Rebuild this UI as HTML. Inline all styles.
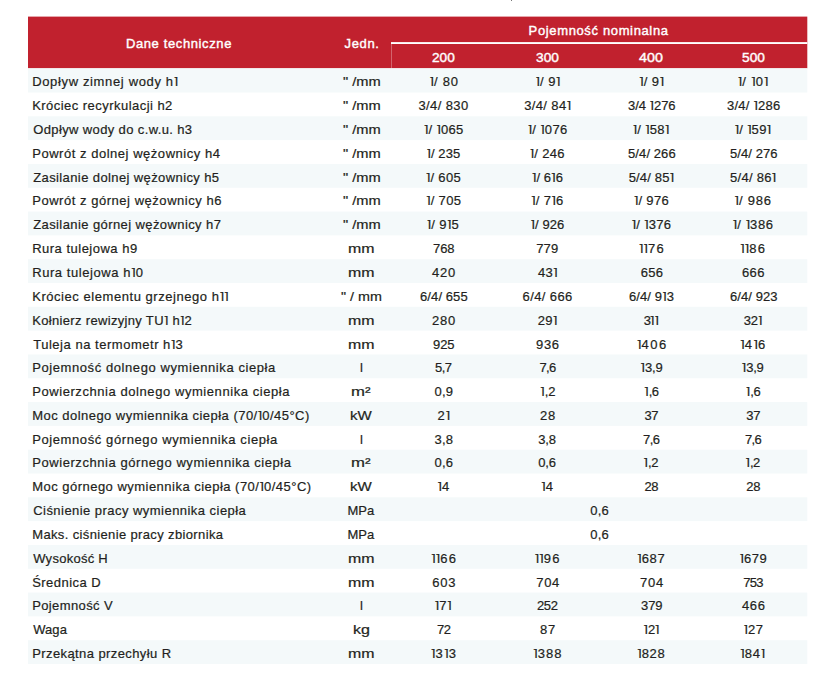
<!DOCTYPE html>
<html><head><meta charset="utf-8"><title>Dane techniczne</title>
<style>
html,body{margin:0;padding:0;background:#fff;}
body{width:837px;height:690px;position:relative;overflow:hidden;font-family:"Liberation Sans",sans-serif;}
.ht{position:absolute;color:#fff;font-size:13px;white-space:nowrap;-webkit-text-stroke:0.4px #fff;transform-origin:0 0;}
.t{position:absolute;font-size:13px;color:#231f20;-webkit-text-stroke:0.2px #231f20;white-space:nowrap;line-height:23.84px;font-family:"Liberation Sans",sans-serif;}
.o{display:inline-block;position:relative;width:4.6px;color:transparent;-webkit-text-stroke:0 transparent;letter-spacing:0;}
.o::before{content:"I";position:absolute;left:1.15px;top:0;color:#231f20;-webkit-text-stroke:0.2px #231f20;}
.o::after{content:"-";position:absolute;left:0.45px;top:-3.9px;font-size:9px;color:#231f20;-webkit-text-stroke:0.2px #231f20;}
.u{transform-origin:0 0;}
</style></head><body>
<svg style="position:absolute;left:0;top:0" width="837" height="690" viewBox="0 0 837 690">
<rect x="511" y="0" width="1" height="1" fill="#777"/>
<rect x="28" y="16.6" width="779.3" height="51.7" fill="#c1212e"/>
<rect x="391" y="42.1" width="416.3" height="1.9" fill="#fff"/>
<rect x="391" y="44" width="1" height="24.3" fill="#fff" fill-opacity="0.3"/>
<rect x="28" y="68.300" width="779.3" height="24.200" fill="#f4f9fa"/>
<rect x="28" y="116.312" width="779.3" height="23.812" fill="#f4f9fa"/>
<rect x="28" y="163.938" width="779.3" height="23.812" fill="#f4f9fa"/>
<rect x="28" y="211.562" width="779.3" height="23.812" fill="#f4f9fa"/>
<rect x="28" y="259.188" width="779.3" height="23.812" fill="#f4f9fa"/>
<rect x="28" y="306.812" width="779.3" height="23.812" fill="#f4f9fa"/>
<rect x="28" y="354.438" width="779.3" height="23.812" fill="#f4f9fa"/>
<rect x="28" y="402.062" width="779.3" height="23.812" fill="#f4f9fa"/>
<rect x="28" y="449.688" width="779.3" height="23.812" fill="#f4f9fa"/>
<rect x="28" y="497.312" width="779.3" height="23.812" fill="#f4f9fa"/>
<rect x="28" y="544.938" width="779.3" height="23.812" fill="#f4f9fa"/>
<rect x="28" y="592.562" width="779.3" height="23.812" fill="#f4f9fa"/>
<rect x="28" y="640.188" width="779.3" height="23.812" fill="#f4f9fa"/>
</svg>
<div class="ht" style="left:125.90px;top:18px;line-height:51px;letter-spacing:0.621px;">Dane techniczne</div>
<div class="ht" style="left:344.60px;top:18px;line-height:51px;letter-spacing:0.625px;">Jedn.</div>
<div class="ht" style="left:528.60px;top:18px;line-height:25px;letter-spacing:0.639px;">Pojemność nominalna</div>
<div class="ht" style="left:431.80px;top:46px;line-height:24px;letter-spacing:0.000px;transform:scaleX(1.050);">200</div>
<div class="ht" style="left:535.90px;top:46px;line-height:24px;letter-spacing:0.000px;transform:scaleX(1.055);">300</div>
<div class="ht" style="left:639.30px;top:46px;line-height:24px;letter-spacing:0.000px;transform:scaleX(1.100);">400</div>
<div class="ht" style="left:741.70px;top:46px;line-height:24px;letter-spacing:0.000px;transform:scaleX(1.055);">500</div>
<div class="t" style="left:32.20px;top:69.57px;letter-spacing:0.645px;">Dopływ zimnej wody h<span class="o">1</span></div>
<div class="t u" style="left:342.50px;top:69.57px;transform:scaleX(1.127);">" /mm</div>
<div class="t" style="left:429.45px;top:69.57px;letter-spacing:0.73px;"><span class="o">1</span>/ 80</div>
<div class="t" style="left:535.45px;top:69.57px;letter-spacing:0.47px;"><span class="o">1</span>/ 9<span class="o">1</span></div>
<div class="t" style="left:639.05px;top:69.57px;letter-spacing:0.47px;"><span class="o">1</span>/ 9<span class="o">1</span></div>
<div class="t" style="left:737.70px;top:69.57px;letter-spacing:0.80px;"><span class="o">1</span>/ <span class="o">1</span>0<span class="o">1</span></div>
<div class="t" style="left:32.20px;top:93.57px;letter-spacing:0.459px;">Króciec recyrkulacji h2</div>
<div class="t u" style="left:342.50px;top:93.57px;transform:scaleX(1.127);">" /mm</div>
<div class="t" style="left:418.40px;top:93.57px;letter-spacing:0.40px;">3/4/ 830</div>
<div class="t" style="left:524.20px;top:93.57px;letter-spacing:0.37px;">3/4/ 84<span class="o">1</span></div>
<div class="t" style="left:628.05px;top:93.57px;letter-spacing:-0.07px;">3/4 <span class="o">1</span>276</div>
<div class="t" style="left:726.95px;top:93.57px;letter-spacing:0.23px;">3/4/ <span class="o">1</span>286</div>
<div class="t" style="left:33.20px;top:117.57px;letter-spacing:0.374px;">Odpływ wody do c.w.u. h3</div>
<div class="t u" style="left:342.50px;top:117.57px;transform:scaleX(1.127);">" /mm</div>
<div class="t" style="left:423.80px;top:117.57px;letter-spacing:0.35px;"><span class="o">1</span>/ <span class="o">1</span>065</div>
<div class="t" style="left:527.70px;top:117.57px;letter-spacing:0.35px;"><span class="o">1</span>/ <span class="o">1</span>076</div>
<div class="t" style="left:632.70px;top:117.57px;letter-spacing:0.30px;"><span class="o">1</span>/ <span class="o">1</span>58<span class="o">1</span></div>
<div class="t" style="left:734.60px;top:117.57px;letter-spacing:0.30px;"><span class="o">1</span>/ <span class="o">1</span>59<span class="o">1</span></div>
<div class="t" style="left:32.20px;top:141.57px;letter-spacing:0.530px;">Powrót z dolnej wężownicy h4</div>
<div class="t u" style="left:342.50px;top:141.57px;transform:scaleX(1.127);">" /mm</div>
<div class="t" style="left:426.45px;top:141.57px;letter-spacing:0.05px;"><span class="o">1</span>/ 235</div>
<div class="t" style="left:529.70px;top:141.57px;letter-spacing:0.35px;"><span class="o">1</span>/ 246</div>
<div class="t" style="left:628.05px;top:141.57px;letter-spacing:0.09px;">5/4/ 266</div>
<div class="t" style="left:729.95px;top:141.57px;letter-spacing:0.09px;">5/4/ 276</div>
<div class="t" style="left:33.20px;top:165.57px;letter-spacing:0.393px;">Zasilanie dolnej wężownicy h5</div>
<div class="t u" style="left:342.50px;top:165.57px;transform:scaleX(1.127);">" /mm</div>
<div class="t" style="left:425.80px;top:165.57px;letter-spacing:0.35px;"><span class="o">1</span>/ 605</div>
<div class="t" style="left:531.85px;top:165.57px;letter-spacing:0.07px;"><span class="o">1</span>/ 6<span class="o">1</span>6</div>
<div class="t" style="left:628.70px;top:165.57px;letter-spacing:0.17px;">5/4/ 85<span class="o">1</span></div>
<div class="t" style="left:730.05px;top:165.57px;letter-spacing:0.26px;">5/4/ 86<span class="o">1</span></div>
<div class="t" style="left:32.20px;top:188.57px;letter-spacing:0.533px;">Powrót z górnej wężownicy h6</div>
<div class="t u" style="left:342.50px;top:188.57px;transform:scaleX(1.127);">" /mm</div>
<div class="t" style="left:426.05px;top:188.57px;letter-spacing:0.35px;"><span class="o">1</span>/ 705</div>
<div class="t" style="left:531.10px;top:188.57px;letter-spacing:0.40px;"><span class="o">1</span>/ 7<span class="o">1</span>6</div>
<div class="t" style="left:633.80px;top:188.57px;letter-spacing:0.35px;"><span class="o">1</span>/ 976</div>
<div class="t" style="left:734.35px;top:188.57px;letter-spacing:0.80px;"><span class="o">1</span>/ 986</div>
<div class="t" style="left:33.20px;top:212.57px;letter-spacing:0.407px;">Zasilanie górnej wężownicy h7</div>
<div class="t u" style="left:342.50px;top:212.57px;transform:scaleX(1.127);">" /mm</div>
<div class="t" style="left:426.70px;top:212.57px;letter-spacing:0.40px;"><span class="o">1</span>/ 9<span class="o">1</span>5</div>
<div class="t" style="left:530.45px;top:212.57px;letter-spacing:0.10px;"><span class="o">1</span>/ 926</div>
<div class="t" style="left:631.55px;top:212.57px;letter-spacing:0.35px;"><span class="o">1</span>/ <span class="o">1</span>376</div>
<div class="t" style="left:732.60px;top:212.57px;letter-spacing:0.55px;"><span class="o">1</span>/ <span class="o">1</span>386</div>
<div class="t" style="left:32.20px;top:236.57px;letter-spacing:0.493px;">Rura tulejowa h9</div>
<div class="t u" style="left:347.97px;top:236.57px;transform:scaleX(1.225);">mm</div>
<div class="t" style="left:433.05px;top:236.57px;letter-spacing:-0.10px;">768</div>
<div class="t" style="left:536.20px;top:236.57px;letter-spacing:0.20px;">779</div>
<div class="t" style="left:638.80px;top:236.57px;letter-spacing:1.40px;"><span class="o">1</span><span class="o">1</span>76</div>
<div class="t" style="left:740.05px;top:236.57px;letter-spacing:1.40px;"><span class="o">1</span><span class="o">1</span>86</div>
<div class="t" style="left:32.20px;top:260.57px;letter-spacing:0.573px;">Rura tulejowa h<span class="o">1</span>0</div>
<div class="t u" style="left:347.97px;top:260.57px;transform:scaleX(1.225);">mm</div>
<div class="t" style="left:432.05px;top:260.57px;letter-spacing:0.70px;">420</div>
<div class="t" style="left:538.05px;top:260.57px;letter-spacing:0.30px;">43<span class="o">1</span></div>
<div class="t" style="left:640.65px;top:260.57px;letter-spacing:0.30px;">656</div>
<div class="t" style="left:742.10px;top:260.57px;letter-spacing:0.30px;">666</div>
<div class="t" style="left:32.20px;top:284.57px;letter-spacing:0.550px;">Króciec elementu grzejnego h<span class="o">1</span><span class="o">1</span></div>
<div class="t u" style="left:340.60px;top:284.57px;transform:scaleX(1.103);">" / mm</div>
<div class="t" style="left:420.05px;top:284.57px;letter-spacing:0.09px;">6/4/ 655</div>
<div class="t" style="left:522.55px;top:284.57px;letter-spacing:0.40px;">6/4/ 666</div>
<div class="t" style="left:628.90px;top:284.57px;letter-spacing:0.13px;">6/4/ 9<span class="o">1</span>3</div>
<div class="t" style="left:729.95px;top:284.57px;letter-spacing:0.09px;">6/4/ 923</div>
<div class="t" style="left:32.20px;top:308.57px;letter-spacing:0.330px;">Kołnierz rewizyjny TU<span class="o">1</span> h<span class="o">1</span>2</div>
<div class="t u" style="left:347.97px;top:308.57px;transform:scaleX(1.225);">mm</div>
<div class="t" style="left:432.05px;top:308.57px;letter-spacing:0.70px;">280</div>
<div class="t" style="left:537.80px;top:308.57px;letter-spacing:0.30px;">29<span class="o">1</span></div>
<div class="t" style="left:643.65px;top:308.57px;letter-spacing:-1.00px;">3<span class="o">1</span><span class="o">1</span></div>
<div class="t" style="left:743.70px;top:308.57px;letter-spacing:-0.10px;">32<span class="o">1</span></div>
<div class="t" style="left:33.20px;top:332.57px;letter-spacing:0.524px;">Tuleja na termometr h<span class="o">1</span>3</div>
<div class="t u" style="left:347.97px;top:332.57px;transform:scaleX(1.225);">mm</div>
<div class="t" style="left:433.05px;top:332.57px;letter-spacing:-0.10px;">925</div>
<div class="t" style="left:536.05px;top:332.57px;letter-spacing:0.60px;">936</div>
<div class="t" style="left:636.80px;top:332.57px;letter-spacing:1.60px;"><span class="o">1</span>406</div>
<div class="t" style="left:740.05px;top:332.57px;letter-spacing:1.40px;"><span class="o">1</span>4<span class="o">1</span>6</div>
<div class="t" style="left:32.20px;top:355.57px;letter-spacing:0.582px;">Pojemność dolnego wymiennika ciepła</div>
<div class="t u" style="left:359.95px;top:355.57px;">l</div>
<div class="t" style="left:435.05px;top:355.57px;letter-spacing:-0.60px;">5,7</div>
<div class="t" style="left:539.45px;top:355.57px;letter-spacing:-0.60px;">7,6</div>
<div class="t" style="left:640.30px;top:355.57px;letter-spacing:-0.10px;"><span class="o">1</span>3,9</div>
<div class="t" style="left:741.55px;top:355.57px;letter-spacing:-0.20px;"><span class="o">1</span>3,9</div>
<div class="t" style="left:32.20px;top:379.57px;letter-spacing:0.568px;">Powierzchnia dolnego wymiennika ciepła</div>
<div class="t u" style="left:351.41px;top:379.57px;transform:scaleX(1.286);">m²</div>
<div class="t" style="left:434.55px;top:379.57px;letter-spacing:0.20px;">0,9</div>
<div class="t" style="left:540.15px;top:379.57px;letter-spacing:-0.20px;"><span class="o">1</span>,2</div>
<div class="t" style="left:644.05px;top:379.57px;letter-spacing:-0.60px;"><span class="o">1</span>,6</div>
<div class="t" style="left:745.70px;top:379.57px;letter-spacing:-0.40px;"><span class="o">1</span>,6</div>
<div class="t" style="left:32.20px;top:403.57px;letter-spacing:0.468px;">Moc dolnego wymiennika ciepła (70/<span class="o">1</span>0/45°C)</div>
<div class="t u" style="left:349.84px;top:403.57px;transform:scaleX(1.161);">kW</div>
<div class="t" style="left:437.55px;top:403.57px;letter-spacing:0.80px;">2<span class="o">1</span></div>
<div class="t" style="left:540.05px;top:403.57px;letter-spacing:0.60px;">28</div>
<div class="t" style="left:644.40px;top:403.57px;letter-spacing:-0.40px;">37</div>
<div class="t" style="left:746.30px;top:403.57px;letter-spacing:-0.40px;">37</div>
<div class="t" style="left:32.20px;top:427.57px;letter-spacing:0.600px;">Pojemność górnego wymiennika ciepła</div>
<div class="t u" style="left:359.95px;top:427.57px;">l</div>
<div class="t" style="left:434.55px;top:427.57px;letter-spacing:0.20px;">3,8</div>
<div class="t" style="left:538.20px;top:427.57px;letter-spacing:-0.10px;">3,8</div>
<div class="t" style="left:643.05px;top:427.57px;letter-spacing:-0.60px;">7,6</div>
<div class="t" style="left:744.95px;top:427.57px;letter-spacing:-0.60px;">7,6</div>
<div class="t" style="left:32.20px;top:450.57px;letter-spacing:0.570px;">Powierzchnia górnego wymiennika ciepła</div>
<div class="t u" style="left:351.41px;top:450.57px;transform:scaleX(1.286);">m²</div>
<div class="t" style="left:434.55px;top:450.57px;letter-spacing:0.20px;">0,6</div>
<div class="t" style="left:538.20px;top:450.57px;letter-spacing:-0.10px;">0,6</div>
<div class="t" style="left:643.40px;top:450.57px;letter-spacing:-0.40px;"><span class="o">1</span>,2</div>
<div class="t" style="left:745.30px;top:450.57px;letter-spacing:-0.40px;"><span class="o">1</span>,2</div>
<div class="t" style="left:32.20px;top:474.57px;letter-spacing:0.477px;">Moc górnego wymiennika ciepła (70/<span class="o">1</span>0/45°C)</div>
<div class="t u" style="left:349.84px;top:474.57px;transform:scaleX(1.161);">kW</div>
<div class="t" style="left:437.40px;top:474.57px;letter-spacing:0.00px;"><span class="o">1</span>4</div>
<div class="t" style="left:541.05px;top:474.57px;letter-spacing:0.00px;"><span class="o">1</span>4</div>
<div class="t" style="left:644.40px;top:474.57px;letter-spacing:-0.40px;">28</div>
<div class="t" style="left:746.30px;top:474.57px;letter-spacing:-0.40px;">28</div>
<div class="t" style="left:33.20px;top:498.57px;letter-spacing:0.459px;">Ciśnienie pracy wymiennika ciepła</div>
<div class="t u" style="left:347.40px;top:498.57px;">MPa</div>
<div class="t" style="left:590.35px;top:498.57px;letter-spacing:0.20px;">0,6</div>
<div class="t" style="left:32.20px;top:522.57px;letter-spacing:0.363px;">Maks. ciśnienie pracy zbiornika</div>
<div class="t u" style="left:347.40px;top:522.57px;">MPa</div>
<div class="t" style="left:590.35px;top:522.57px;letter-spacing:0.20px;">0,6</div>
<div class="t" style="left:33.20px;top:546.57px;letter-spacing:0.267px;">Wysokość H</div>
<div class="t u" style="left:347.97px;top:546.57px;transform:scaleX(1.225);">mm</div>
<div class="t" style="left:431.05px;top:546.57px;letter-spacing:1.40px;"><span class="o">1</span><span class="o">1</span>66</div>
<div class="t" style="left:534.55px;top:546.57px;letter-spacing:1.40px;"><span class="o">1</span><span class="o">1</span>96</div>
<div class="t" style="left:637.10px;top:546.57px;letter-spacing:0.70px;"><span class="o">1</span>687</div>
<div class="t" style="left:739.45px;top:546.57px;letter-spacing:0.50px;"><span class="o">1</span>679</div>
<div class="t" style="left:32.20px;top:570.57px;letter-spacing:0.456px;">Średnica D</div>
<div class="t u" style="left:347.97px;top:570.57px;transform:scaleX(1.225);">mm</div>
<div class="t" style="left:432.30px;top:570.57px;letter-spacing:0.70px;">603</div>
<div class="t" style="left:536.30px;top:570.57px;letter-spacing:0.60px;">704</div>
<div class="t" style="left:640.05px;top:570.57px;letter-spacing:0.70px;">704</div>
<div class="t" style="left:743.30px;top:570.57px;letter-spacing:-0.70px;">753</div>
<div class="t" style="left:32.20px;top:593.57px;letter-spacing:0.380px;">Pojemność V</div>
<div class="t u" style="left:359.95px;top:593.57px;">l</div>
<div class="t" style="left:434.55px;top:593.57px;letter-spacing:0.80px;"><span class="o">1</span>7<span class="o">1</span></div>
<div class="t" style="left:536.95px;top:593.57px;letter-spacing:-0.30px;">252</div>
<div class="t" style="left:641.05px;top:593.57px;letter-spacing:-0.10px;">379</div>
<div class="t" style="left:741.95px;top:593.57px;letter-spacing:0.70px;">466</div>
<div class="t" style="left:33.20px;top:617.57px;letter-spacing:0.067px;">Waga</div>
<div class="t u" style="left:352.77px;top:617.57px;transform:scaleX(1.233);">kg</div>
<div class="t" style="left:437.05px;top:617.57px;letter-spacing:-0.60px;">72</div>
<div class="t" style="left:540.05px;top:617.57px;letter-spacing:0.60px;">87</div>
<div class="t" style="left:643.40px;top:617.57px;letter-spacing:-0.40px;"><span class="o">1</span>2<span class="o">1</span></div>
<div class="t" style="left:743.45px;top:617.57px;letter-spacing:0.40px;"><span class="o">1</span>27</div>
<div class="t" style="left:32.20px;top:641.57px;letter-spacing:0.405px;">Przekątna przechyłu R</div>
<div class="t u" style="left:347.97px;top:641.57px;transform:scaleX(1.225);">mm</div>
<div class="t" style="left:430.80px;top:641.57px;letter-spacing:1.40px;"><span class="o">1</span>3<span class="o">1</span>3</div>
<div class="t" style="left:533.05px;top:641.57px;letter-spacing:1.10px;"><span class="o">1</span>388</div>
<div class="t" style="left:637.10px;top:641.57px;letter-spacing:0.70px;"><span class="o">1</span>828</div>
<div class="t" style="left:740.05px;top:641.57px;letter-spacing:0.80px;"><span class="o">1</span>84<span class="o">1</span></div>
</body></html>
